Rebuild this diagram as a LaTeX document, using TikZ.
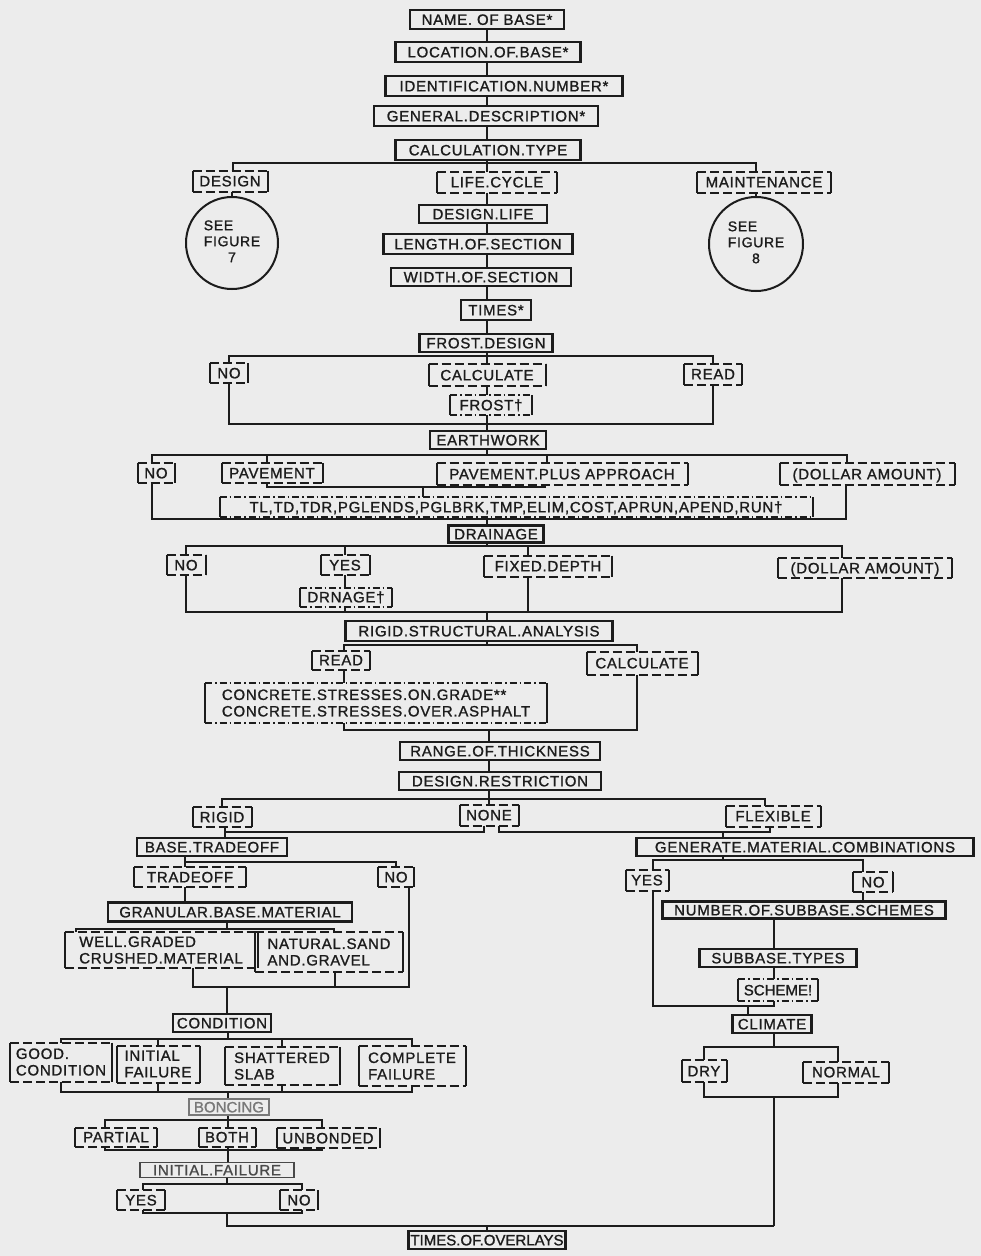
\documentclass[tikz,border=0pt]{standalone}
\usepackage{fontspec}
\setmainfont{Liberation Sans}[LetterSpace=5, FakeBold=1.2]
\definecolor{ink}{RGB}{28,28,28}
\definecolor{paper}{RGB}{236,236,236}
\definecolor{faded}{RGB}{120,120,120}
\tikzset{
  base/.style={inner xsep=2pt, inner ysep=1pt, font=\fontsize{15}{16.5}\selectfont, text=ink},
  oneline/.style={text height=10.7pt, text depth=0pt},
  tight/.style={font=\fontsize{15}{16.5}\selectfont\addfontfeature{LetterSpace=0}},
  wh/.style 2 args={minimum width=#1, minimum height=#2},
  sbox/.style={base, oneline, draw=ink, line width=2.2pt},
  sidebars/.style={append after command={
      \pgfextra{\let\sbn\tikzlastnode}
      (\sbn.north west) edge[#1] (\sbn.north east)
      (\sbn.south west) edge[#1] (\sbn.south east)
      (\sbn.north west) edge[solid] (\sbn.south west)
      (\sbn.north east) edge[solid] (\sbn.south east)}},
  dbox/.style={base, oneline, sidebars={dash pattern=on 9pt off 4pt}},
  dboxtwo/.style={base, align=left, sidebars={dash pattern=on 9pt off 4pt}},
  ddbox/.style={base, oneline, sidebars={dash pattern=on 7pt off 3pt on 1.5pt off 3pt}},
  ddboxtwo/.style={base, align=left, sidebars={dash pattern=on 7pt off 3pt on 1.5pt off 3pt}},
  refcircle/.style={circle, draw=ink, line width=2pt, inner sep=0pt,
    font=\fontsize{14}{16}\selectfont, text=ink},
}
\newcommand{\seefig}[1]{\begin{tabular}{@{}l@{}}SEE\\FIGURE\\\multicolumn{1}{@{}c@{}}{#1}\end{tabular}}
\begin{document}
\begin{tikzpicture}[x=1pt, y=-1pt, color=ink, line width=2pt]
\fill[paper] (0,0) rectangle (981,1256);
\useasboundingbox (0,0) rectangle (981,1256);

% ---- header stack ----
\node[sbox, wh={154}{19}] (nameb) at (487,19.5) {NAME. OF BASE*};
\node[sbox, wh={185}{20}] (locb) at (488,52) {LOCATION.OF.BASE*};
\node[sbox, wh={237}{20}] (idnum) at (504,86) {IDENTIFICATION.NUMBER*};
\node[sbox, wh={224}{20}] (gendesc) at (486,116) {GENERAL.DESCRIPTION*};
\node[sbox, wh={185}{20}] (calctype) at (488,150) {CALCULATION.TYPE};

\node[dbox, wh={73}{19}] (design) at (230,181) {DESIGN};
\node[dbox, wh={118}{19}] (lifecyc) at (497,182) {LIFE.CYCLE};
\node[dbox, wh={132}{19}] (maint) at (764,182) {MAINTENANCE};
\node[refcircle, minimum size=92] (fig7) at (232,243) {\seefig{7}};
\node[refcircle, minimum size=94] (fig8) at (756,244) {\seefig{8}};

\node[sbox, wh={128}{18}] (deslife) at (483,214) {DESIGN.LIFE};
\node[sbox, wh={189}{20}] (lensec) at (478,244) {LENGTH.OF.SECTION};
\node[sbox, wh={180}{18}] (widsec) at (481,277) {WIDTH.OF.SECTION};
\node[sbox, wh={70}{20}] (times) at (496,310) {TIMES*};

% ---- frost ----
\node[sbox, wh={133}{18}] (frostdes) at (486,343) {FROST.DESIGN};
\node[dbox, wh={36}{18}] (frno) at (229,373) {NO};
\node[dbox, wh={115}{20}] (frcalc) at (487,375) {CALCULATE};
\node[dbox, wh={56}{19}] (frread) at (713,374) {READ};
\node[ddbox, wh={80}{18}] (frost) at (491,405) {FROST†};

% ---- earthwork ----
\node[sbox, wh={116}{18}] (earth) at (488,440) {EARTHWORK};
\node[dbox, wh={35}{18}] (ewno) at (156,473) {NO};
\node[dbox, wh={99}{18}] (ewpav) at (272,473) {PAVEMENT};
\node[dbox, wh={249}{20}] (ewppa) at (562,474) {PAVEMENT.PLUS APPROACH};
\node[dbox, wh={173}{20}] (ewdol) at (867,474) {(DOLLAR AMOUNT)};
\node[ddbox, wh={591}{18}] (ewsub) at (516,507) {TL,TD,TDR,PGLENDS,PGLBRK,TMP,ELIM,COST,APRUN,APEND,RUN†};

% ---- drainage ----
\node[sbox, wh={95}{17}] (drain) at (496,534) {DRAINAGE};
\node[dbox, wh={37}{18}] (drno) at (186,565) {NO};
\node[dbox, wh={47}{18}] (dryes) at (345,565) {YES};
\node[dbox, wh={126}{19}] (drfix) at (548,566) {FIXED.DEPTH};
\node[dbox, wh={172}{18}] (drdol) at (865,568) {(DOLLAR AMOUNT)};
\node[ddbox, wh={90}{17}] (drnage) at (346,597) {DRNAGE†};

% ---- rigid structural analysis ----
\node[sbox, wh={267}{20}] (rsa) at (479,631) {RIGID.STRUCTURAL.ANALYSIS};
\node[dbox, wh={56}{17}] (rsread) at (341,660) {READ};
\node[dbox, wh={109}{21}] (rscalc) at (642,663) {CALCULATE};
\node[ddboxtwo, wh={340}{38}] (concrete) at (376,703)
  {CONCRETE.STRESSES.ON.GRADE**\\CONCRETE.STRESSES.OVER.ASPHALT};

\node[sbox, wh={200}{18}] (range) at (500,751) {RANGE.OF.THICKNESS};
\node[sbox, wh={202}{18}] (restr) at (500,781) {DESIGN.RESTRICTION};
\node[dbox, wh={57}{18}] (rigid) at (222,817) {RIGID};
\node[dbox, wh={57}{19}] (none) at (489,815) {NONE};
\node[dbox, wh={93}{19}] (flex) at (773,816) {FLEXIBLE};

% ---- rigid branch ----
\node[sbox, wh={150}{18}] (basetr) at (212,847) {BASE.TRADEOFF};
\node[dbox, wh={110}{18}] (trade) at (190,877) {TRADEOFF};
\node[dbox, wh={34}{18}] (trno) at (396,877) {NO};
\node[sbox, wh={244}{19}] (granular) at (230,912) {GRANULAR.BASE.MATERIAL};
\node[dboxtwo, wh={191}{34}] (wellgr) at (161,950) {WELL.GRADED\\CRUSHED.MATERIAL};
\node[dboxtwo, wh={146}{38}] (natural) at (329,952) {NATURAL.SAND\\AND.GRAVEL};
\node[sbox, wh={98}{18}] (condition) at (222,1023) {CONDITION};
\node[dboxtwo, wh={100}{37}] (good) at (61,1062) {GOOD.\\CONDITION};
\node[dboxtwo, wh={81}{35}] (initial) at (158,1064) {INITIAL\\FAILURE};
\node[dboxtwo, wh={113}{36}] (shattered) at (282,1066) {SHATTERED\\SLAB};
\node[dboxtwo, wh={105}{38}] (complete) at (412,1066) {COMPLETE\\FAILURE};
\node[sbox, tight, draw=faded, text=faded, line width=1.4pt, wh={80}{16}] (bonding) at (229,1107) {BONCING};
\node[dbox, wh={80}{17}] (partial) at (116,1137) {PARTIAL};
\node[dbox, wh={55}{17}] (both) at (227,1137) {BOTH};
\node[dbox, wh={101}{18}] (unbonded) at (328,1138) {UNBONDED};
\node[sbox, draw=ink!80, text=ink!80, line width=1.6pt, wh={154}{15}] (initfail) at (217,1170) {INITIAL.FAILURE};
\node[dbox, wh={46}{18}] (ifyes) at (141,1200) {YES};
\node[dbox, wh={36}{18}] (ifno) at (299,1200) {NO};
\node[sbox, tight, wh={156}{18}] (overlays) at (487,1240) {TIMES.OF.OVERLAYS};

% ---- flexible branch ----
\node[sbox, wh={337}{18}] (genmat) at (805,847) {GENERATE.MATERIAL.COMBINATIONS};
\node[dbox, wh={41}{19}] (gmyes) at (647,880) {YES};
\node[dbox, wh={38}{18}] (gmno) at (873,882) {NO};
\node[sbox, wh={283}{17}] (subnum) at (804,910) {NUMBER.OF.SUBBASE.SCHEMES};
\node[sbox, wh={157}{18}] (subtyp) at (778,958) {SUBBASE.TYPES};
\node[ddbox, tight, wh={78}{20}] (scheme) at (778,990) {SCHEME!};
\node[sbox, wh={79}{18}] (climate) at (772,1024) {CLIMATE};
\node[dbox, wh={43}{20}] (dry) at (704,1071) {DRY};
\node[dbox, wh={84}{19}] (normal) at (846,1072) {NORMAL};

% ================= connectors =================
\coordinate (colA) at (487,0);
\coordinate (colB) at (489,0);
\coordinate (colC) at (774,0);

\draw (nameb.south -| colA) -- (locb.north -| colA);
\draw (locb.south -| colA) -- (idnum.north -| colA);
\draw (idnum.south -| colA) -- (gendesc.north -| colA);
\draw (gendesc.south -| colA) -- (calctype.north -| colA);

\coordinate (br1) at (487,163);
\draw (calctype.south -| colA) -- (br1);
\draw ([xshift=3]design.north) |- (br1) -| (fig8 |- maint.north);
\draw (br1) -- (lifecyc.north -| colA);
\draw ([xshift=2]design.south) -- (fig7.north);
\draw (fig8 |- maint.south) -- (fig8.north);

\foreach \a/\b in {lifecyc/deslife, deslife/lensec, lensec/widsec, widsec/times, times/frostdes}
  \draw (\a.south -| colA) -- (\b.north -| colA);

% frost design
\coordinate (br2) at (487,356);
\draw (frostdes.south -| colA) -- (br2);
\draw (frno.north) |- (br2) -| (frread.north);
\draw (br2) -- (frcalc.north -| colA);
\draw (frcalc.south -| colA) -- (frost.north -| colA);
\coordinate (mg2) at (487,424);
\draw (frno.south) |- (mg2) -| (frread.south);
\draw (frost.south -| colA) -- (mg2) -- (earth.north -| colA);

% earthwork
\coordinate (br3) at (487,455);
\draw (earth.south -| colA) -- (br3);
\draw ([xshift=-4]ewno.north) |- (br3) -| ([xshift=-20]ewdol.north);
\draw ([xshift=-5]ewpav.north) |- (br3);
\draw ([xshift=-15]ewppa.north) |- (br3);
\coordinate (mg3a) at (423,487);
\draw ([xshift=-5]ewpav.south) |- (mg3a) -| ([xshift=-17]ewppa.south);
\draw (mg3a) -- (ewsub.north -| mg3a);
\coordinate (mg3) at (487,519);
\draw ([xshift=-4]ewno.south) |- (mg3) -| ([xshift=-21]ewdol.south);
\draw (ewsub.south -| colA) -- (mg3) -- (drain.north -| colA);

% drainage
\coordinate (br4) at (487,546);
\draw (drain.south -| colA) -- (br4);
\draw (drno.north) |- (br4) -| ([xshift=-23]drdol.north);
\draw (dryes.north) |- (br4);
\draw ([xshift=-20]drfix.north) |- (br4);
\draw (dryes.south) -- (drnage.north -| dryes);
\coordinate (mg4) at (487,612);
\draw (drno.south) |- (mg4) -| ([xshift=-23]drdol.south);
\draw ([xshift=-20]drfix.south) |- (mg4);
\draw (drnage.south -| dryes) -- (mg4 -| dryes);
\draw (mg4) -- (rsa.north -| colA);

% rigid structural analysis
\coordinate (br5) at (487,645);
\draw (rsa.south -| colA) -- (br5);
\draw ([xshift=3]rsread.north) |- (br5) -| ([xshift=-5]rscalc.north);
\draw ([xshift=3]rsread.south) -- ([xshift=3]rsread.south |- concrete.north);
\coordinate (mg5) at (489,730);
\draw ([xshift=3]rsread.south |- concrete.south) |- (mg5) -| ([xshift=-5]rscalc.south);
\draw (mg5) -- (range.north -| colB);
\draw (range.south -| colB) -- (restr.north -| colB);

% design restriction
\coordinate (br6) at (489,799);
\draw (restr.south -| colB) -- (br6);
\draw (rigid.north) |- (br6) -| ([xshift=-8]flex.north);
\draw (br6) -- (none.north -| colB);
\coordinate (mg6) at (489,832);
\draw ([xshift=-5]none.south) |- ([xshift=3]rigid.south |- mg6);
\draw ([xshift=3]rigid.south) -- ([xshift=3]rigid.south |- basetr.north);
\draw ([xshift=10]none.south) |- ([xshift=-3]flex.south |- mg6) -- ([xshift=-3]flex.south);
\draw ([xshift=-82]genmat.north) -- ([xshift=-82]genmat.north |- mg6);

% base tradeoff
\coordinate (br7) at (185,862);
\draw (br7 |- basetr.south) -- (br7 |- trade.north);
\draw (br7) -| (trno.north);
\draw (br7 |- trade.south) -- (br7 |- granular.north);
\coordinate (br8) at (227,929);
\draw (br8 |- granular.south) -- (br8);
\draw ([xshift=-85]wellgr.north) |- (br8) -| ([xshift=5]natural.north);
\coordinate (mg8) at (227,987);
\draw ([xshift=32]wellgr.south) |- (mg8) -| ([xshift=13]trno.south);
\draw ([xshift=6]natural.south) -- ([xshift=6]natural.south |- mg8);
\draw (mg8) -- (condition.north -| mg8);

% condition
\coordinate (br9) at (228,1039);
\draw (condition.south -| br9) -- (br9);
\draw (good.north) |- (br9) -| (complete.north);
\draw (initial.north) -- (initial.north |- br9);
\draw (shattered.north) -- (shattered.north |- br9);
\coordinate (mg9) at (228,1092);
\draw (good.south) |- (mg9) -| (complete.south);
\draw (initial.south) -- (initial.south |- mg9);
\draw (shattered.south) -- (shattered.south |- mg9);
\draw (mg9) -- (bonding.north -| mg9);

% bonding
\coordinate (br10) at (228,1120);
\draw (bonding.south -| br10) -- (br10);
\draw ([xshift=-11]partial.north) |- (br10) -| ([xshift=-6]unbonded.north);
\draw (br10) -- (both.north -| br10);
\coordinate (mg10) at (228,1150);
\draw ([xshift=-11]partial.south) |- (mg10) -| ([xshift=-6]unbonded.south);
\draw (both.south -| mg10) -- (mg10) -- (initfail.north -| mg10);

% initial failure
\coordinate (br11) at (227,1184);
\draw (initfail.south -| br11) -- (br11);
\draw ([xshift=2]ifyes.north) |- (br11) -| ([xshift=3]ifno.north);
\coordinate (mg11) at (227,1213);
\draw ([xshift=2]ifyes.south) |- (mg11) -| ([xshift=3]ifno.south);

% flexible side
\coordinate (br12) at (723,860);
\draw (br12 |- genmat.south) -- (br12);
\draw ([xshift=6]gmyes.north) |- (br12) -| ([xshift=-10]gmno.north);
\draw ([xshift=-10]gmno.south) -- ([xshift=-10]gmno.south |- subnum.north);
\draw (subnum.south -| colC) -- (subtyp.north -| colC);
\draw (subtyp.south -| colC) -- (scheme.north -| colC);
\coordinate (mg13) at (748,1006);
\draw ([xshift=6]gmyes.south) |- (colC |- mg13) -- (colC |- scheme.south);
\draw (mg13) -- (climate.north -| mg13);
\coordinate (br13) at (774,1047);
\draw (climate.south -| br13) -- (br13);
\draw (dry.north) |- (br13) -| ([xshift=-8]normal.north);
\coordinate (mg14) at (774,1097);
\draw (dry.south) |- (mg14) -| ([xshift=-8]normal.south);

% final join
\coordinate (jn) at (774,1226);
\draw (mg14) -- (jn);
\draw (mg11) |- (jn);
\draw (overlays.north) -- (overlays.north |- jn);
\end{tikzpicture}
\end{document}
